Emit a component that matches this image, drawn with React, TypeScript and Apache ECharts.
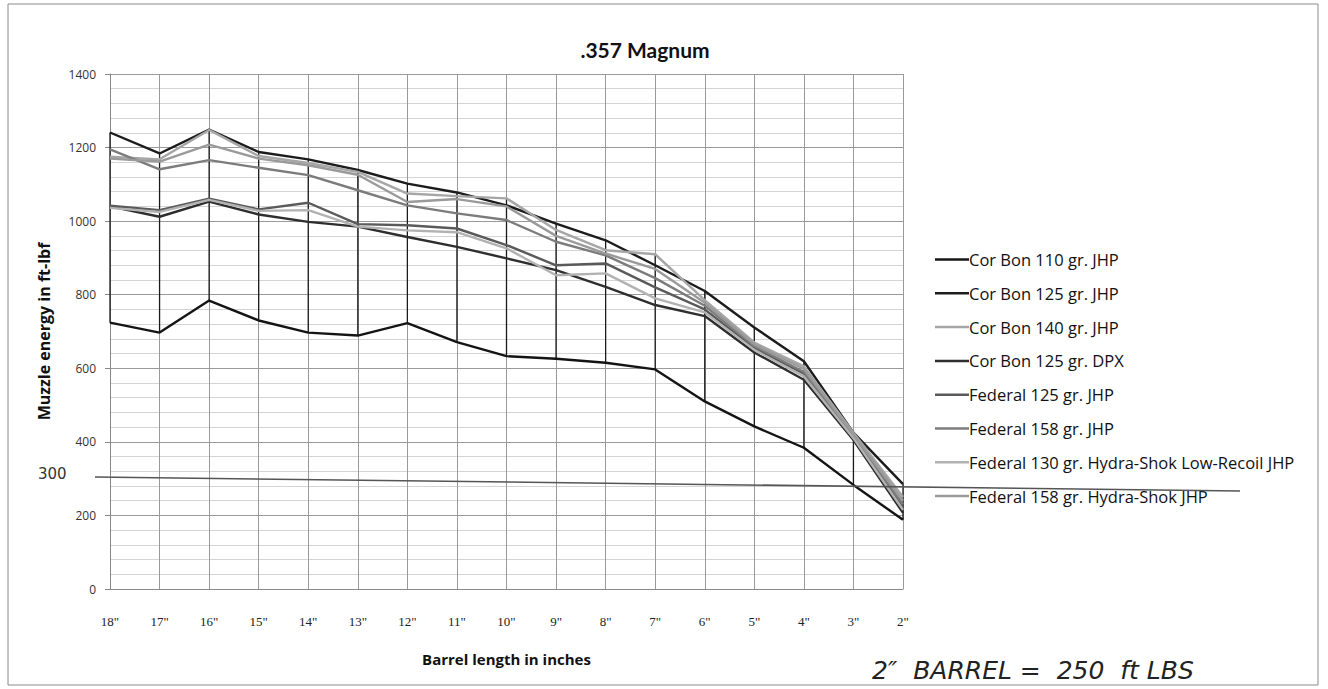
import React, { useEffect, useRef } from "react";
import * as echarts from "echarts";

const categories = ['18"', '17"', '16"', '15"', '14"', '13"', '12"', '11"', '10"', '9"', '8"', '7"', '6"', '5"', '4"', '3"', '2"'];

const corBon110 = [724, 697, 784, 730, 697, 689, 723, 671, 633, 626, 615, 597, 510, 442, 384, 283, 188];
const corBon125 = [1241, 1184, 1249, 1188, 1168, 1139, 1102, 1078, 1043, 993, 948, 880, 810, 711, 619, 425, 285];
const corBon140 = [1175, 1168, 1248, 1177, 1158, 1134, 1075, 1068, 1062, 976, 921, 910, 785, 670, 605, 425, 250];
const corBon125Dpx = [1040, 1012, 1053, 1018, 998, 985, 957, 930, 899, 867, 821, 772, 742, 643, 569, 405, 207];
const federal125 = [1042, 1030, 1061, 1032, 1050, 992, 989, 980, 935, 880, 885, 820, 760, 655, 585, 412, 222];
const federal158 = [1195, 1141, 1166, 1145, 1125, 1084, 1043, 1021, 1003, 944, 907, 845, 770, 660, 590, 415, 230];
const federal130HsLr = [1036, 1025, 1058, 1028, 1030, 985, 975, 970, 926, 853, 858, 790, 752, 650, 578, 410, 215];
const federal158Hs = [1170, 1162, 1208, 1170, 1152, 1126, 1052, 1060, 1040, 960, 912, 870, 778, 665, 598, 420, 240];

const seriesDefs = [
  { name: "Cor Bon 110 gr. JHP", data: corBon110, color: "#141414" },
  { name: "Cor Bon 125 gr. JHP", data: corBon125, color: "#1c1c1c" },
  { name: "Cor Bon 140 gr. JHP", data: corBon140, color: "#a6a6a6" },
  { name: "Cor Bon 125 gr. DPX", data: corBon125Dpx, color: "#2e2e2e" },
  { name: "Federal 125 gr. JHP", data: federal125, color: "#5a5a5a" },
  { name: "Federal 158 gr. JHP", data: federal158, color: "#7c7c7c" },
  { name: "Federal 130 gr. Hydra-Shok Low-Recoil JHP", data: federal130HsLr, color: "#b2b2b2" },
  { name: "Federal 158 gr. Hydra-Shok JHP", data: federal158Hs, color: "#9a9a9a" },
];

const yTicks = { min: 0, max: 1400, interval: 200 };

export default function App() {
  const ref = useRef<HTMLDivElement>(null);
  useEffect(() => {
    if (!ref.current) return;
    const chart = echarts.init(ref.current, null, { renderer: "svg" });
    const hiLo = categories.map((_, i) => {
      const vals = seriesDefs.map((s) => s.data[i]);
      return [i, Math.max(...vals), Math.min(...vals)];
    });
    const option: any = {
      animation: false,
      backgroundColor: "#ffffff",
      title: {
        text: ".357 Magnum",
        left: 640,
        textAlign: "center",
        top: 34,
        textStyle: { fontFamily: "Lato", fontWeight: "bold", fontSize: 21, color: "#111" },
      },
      grid: { left: 110, right: 425, top: 74, bottom: 100, containLabel: false },
      legend: {
        orient: "vertical",
        left: 935,
        top: 251,
        padding: 0,
        icon: "rect",
        itemWidth: 34,
        itemHeight: 2.5,
        itemGap: 16.8,
        data: seriesDefs.map((s) => s.name),
        textStyle: { fontFamily: "Open Sans", fontSize: 16.5, lineHeight: 16, color: "#111", padding: [0, 0, 0, -5] },
      },
      xAxis: {
        type: "category",
        data: categories,
        boundaryGap: false,
        name: "Barrel length in inches",
        nameLocation: "middle",
        nameGap: 62,
        nameTextStyle: { fontFamily: "Open Sans", fontWeight: "bold", fontSize: 15, color: "#111" },
        axisLine: { show: true, lineStyle: { color: "#888", width: 1 } },
        axisTick: { show: false },
        axisLabel: { fontFamily: "Liberation Serif", fontSize: 13, color: "#222", margin: 26 },
        splitLine: { show: true, lineStyle: { color: "#9a9a9a", width: 1 } },
      },
      yAxis: {
        type: "value",
        min: yTicks.min,
        max: yTicks.max,
        interval: yTicks.interval,
        name: "Muzzle energy in ft-lbf",
        nameLocation: "middle",
        nameGap: 58,
        nameRotate: 90,
        nameTextStyle: { fontFamily: "Open Sans", fontWeight: "bold", fontSize: 16, color: "#111" },
        axisLine: { show: true, lineStyle: { color: "#888", width: 1 } },
        axisTick: { show: true, length: 5, lineStyle: { color: "#888" } },
        minorTick: { show: false, splitNumber: 5 },
        axisLabel: { fontFamily: "Open Sans", fontSize: 12, color: "#333", margin: 14, formatter: (v: number) => String(v) },
        splitLine: { show: true, lineStyle: { color: "#9a9a9a", width: 1 } },
        minorSplitLine: { show: true, lineStyle: { color: "#d4d4d4", width: 1 } },
      },
      series: [
        {
          type: "custom",
          name: "hilo",
          silent: true,
          data: hiLo,
          z: 1,
          renderItem: (params: any, api: any) => {
            const top = api.coord([api.value(0), api.value(1)]);
            const bot = api.coord([api.value(0), api.value(2)]);
            return {
              type: "line",
              shape: { x1: top[0], y1: top[1], x2: bot[0], y2: bot[1] },
              style: { stroke: "#1a1a1a", lineWidth: 1.3 },
            };
          },
        },
        ...seriesDefs.map((s, idx) => ({
          type: "line",
          name: s.name,
          data: s.data,
          symbol: "none",
          z: 2 + idx,
          lineStyle: { color: s.color, width: 2.4 },
          itemStyle: { color: s.color },
        })),
      ],
      graphic: [
        {
          type: "rect",
          shape: { x: 8, y: 4, width: 1310, height: 681 },
          style: { fill: "none", stroke: "#8a8a8a", lineWidth: 1 },
          silent: true,
        },
        {
          type: "line",
          shape: { x1: 95, y1: 477, x2: 1240, y2: 491 },
          style: { stroke: "#555", lineWidth: 1.6 },
          silent: true,
          z: 10,
        },
        {
          type: "text",
          x: 38,
          y: 466,
          style: { text: "300", font: "15px 'DejaVu Sans'", fill: "#333" },
          silent: true,
        },
        {
          type: "text",
          x: 872,
          y: 658,
          style: { text: "2\u2033  BARREL =  250  ft LBS", font: "italic 25px 'DejaVu Sans'", fill: "#222" },
          silent: true,
        },
      ],
    };
    chart.setOption(option);
    return () => chart.dispose();
  }, []);
  return (
    <div
      ref={ref}
      style={{ position: "fixed", left: 0, top: 0, width: 1328, height: 689, background: "#fff" }}
    />
  );
}
